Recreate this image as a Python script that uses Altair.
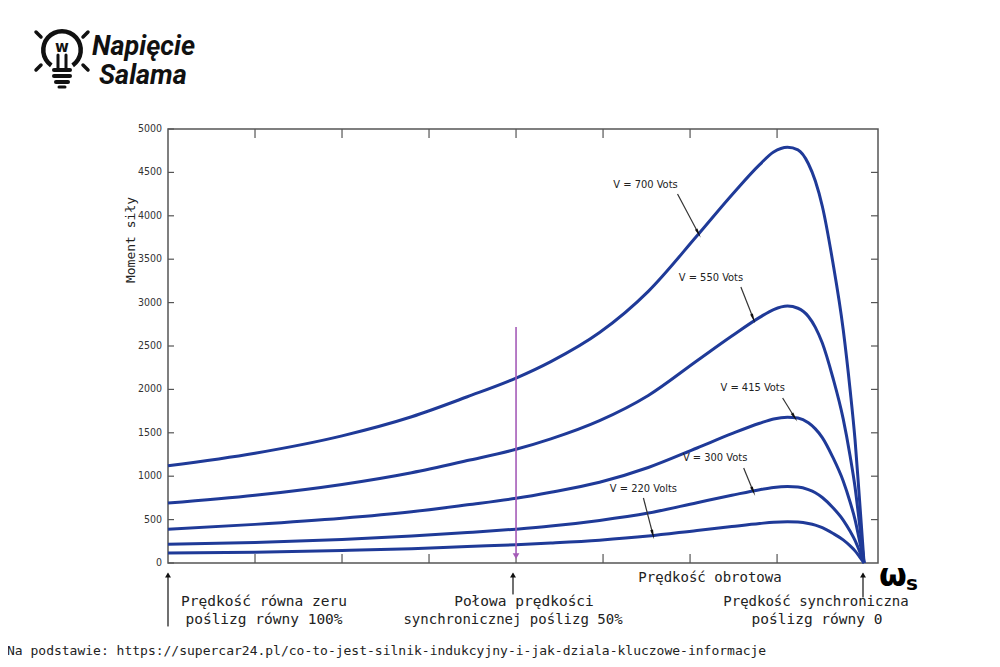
import math
import altair as alt
import pandas as pd

# ---------------- data ----------------
speed = [0, 0.125, 0.25, 0.35, 0.43, 0.5, 0.55, 0.62, 0.69, 0.76, 0.81, 0.85,
         0.87, 0.89, 0.905, 0.92, 0.93, 0.94, 0.955, 0.97, 0.98, 0.987, 0.993, 1.0]
t700 = [1120, 1265, 1465, 1685, 1915, 2130, 2320, 2655, 3130, 3770, 4240, 4590,
        4735, 4790, 4760, 4600, 4400, 4110, 3470, 2690, 1990, 1420, 780, 0]
t550 = [690, 780, 905, 1040, 1180, 1310, 1430, 1640, 1930, 2330, 2615, 2830,
        2920, 2960, 2935, 2840, 2715, 2535, 2140, 1660, 1230, 875, 480, 0]
t415 = [390, 445, 515, 590, 670, 745, 815, 930, 1100, 1325, 1490, 1610,
        1660, 1680, 1670, 1615, 1545, 1445, 1220, 945, 700, 500, 275, 0]
t300 = [215, 235, 270, 310, 350, 390, 425, 490, 575, 695, 780, 845,
        870, 880, 875, 845, 810, 755, 640, 495, 365, 260, 145, 0]
t220 = [115, 125, 145, 165, 190, 210, 230, 263, 310, 375, 420, 455,
        470, 475, 471, 455, 436, 407, 343, 266, 197, 140, 77, 0]
series_names = ["700", "550", "415", "300", "220"]
series_vals = [t700, t550, t415, t300, t220]

label_text = ["V = 700 Vots", "V = 550 Vots", "V = 415 Vots", "V = 300 Vots", "V = 220 Volts"]
label_x = [0.686, 0.780, 0.840, 0.786, 0.683]
label_y = [4355, 3283, 2016, 1210, 853]
arrow_x1 = [0.732, 0.823, 0.883, 0.827, 0.683]
arrow_y1 = [4251, 3180, 1901, 1094, 749]
arrow_x2 = [0.761, 0.840, 0.899, 0.840, 0.696]
arrow_y2 = [3813, 2834, 1694, 841, 346]

y_ticks = list(range(0, 5001, 500))
x_ticks = [0.125, 0.25, 0.375, 0.5, 0.625, 0.75, 0.875]

half_speed = 0.5
purple_top = 2720
purple_bottom = 80

# ---------------- layout constants ----------------
OX, OY = 168, 129          # plot origin on the page
W, H = 710, 434
XMAX, YMAX = 1.02, 5000
PXX, PXY = W / XMAX, H / YMAX

BLUE = "#1f3a98"
PURPLE = "#a55bb8"
NARROW = "Liberation Sans Narrow, Arial Narrow, DejaVu Sans Condensed, Liberation Sans, sans-serif"
MONO = "DejaVu Sans Mono, Liberation Mono, monospace"

xs = alt.Scale(domain=[0, XMAX], nice=False, zero=False)
ys = alt.Scale(domain=[0, YMAX], nice=False, zero=False)

rows = []
for name, vals in zip(series_names, series_vals):
    for s, t in zip(speed, vals):
        rows.append({"speed": s, "torque": t, "series": name})
curves_df = pd.DataFrame(rows)

curves = alt.Chart(curves_df).mark_line(
    color=BLUE, strokeWidth=3, interpolate="monotone"
).encode(
    x=alt.X("speed:Q", scale=xs, axis=None),
    y=alt.Y("torque:Q", scale=ys, axis=None),
    detail="series:N",
)

# y tick labels and inward ticks
ytick_df = pd.DataFrame({"y": y_ticks, "lbl": [str(v) for v in y_ticks]})
ylabels = alt.Chart(ytick_df).mark_text(
    align="right", baseline="middle", dx=-6, font=NARROW, fontSize=10.5, color="#333"
).encode(
    x=alt.X("a:Q", scale=xs, axis=None),
    y=alt.Y("y:Q", scale=ys, axis=None),
    text="lbl:N",
).transform_calculate(a="0")
left_ticks = alt.Chart(ytick_df).mark_rule(color="#555", strokeWidth=1.2).encode(
    x=alt.X("a:Q", scale=xs, axis=None), x2="b:Q",
    y=alt.Y("y:Q", scale=ys, axis=None),
).transform_calculate(a="0", b=str(6 / PXX))
right_ticks = alt.Chart(ytick_df[(ytick_df.y > 0) & (ytick_df.y < 5000)]).mark_rule(color="#555", strokeWidth=1.2).encode(
    x=alt.X("a:Q", scale=xs, axis=None), x2="b:Q",
    y=alt.Y("y:Q", scale=ys, axis=None),
).transform_calculate(a=str(XMAX), b=str(XMAX - 7 / PXX))
xtick_df = pd.DataFrame({"x": x_ticks})
top_ticks = alt.Chart(xtick_df).mark_rule(color="#555", strokeWidth=1.2).encode(
    x=alt.X("x:Q", scale=xs, axis=None),
    y=alt.Y("a:Q", scale=ys, axis=None), y2="b:Q",
).transform_calculate(a=str(YMAX), b=str(YMAX - 9 / PXY))
bottom_ticks = alt.Chart(xtick_df).mark_rule(color="#555", strokeWidth=1.2).encode(
    x=alt.X("x:Q", scale=xs, axis=None),
    y=alt.Y("a:Q", scale=ys, axis=None), y2="b:Q",
).transform_calculate(a="0", b=str(9 / PXY))

# purple half-speed arrow
purple_df = pd.DataFrame({"x": [half_speed], "top": [purple_top], "bot": [purple_bottom]})
purple_line = alt.Chart(purple_df).mark_rule(color=PURPLE, strokeWidth=1.6).encode(
    x=alt.X("x:Q", scale=xs, axis=None),
    y=alt.Y("top:Q", scale=ys, axis=None), y2="bot:Q",
)
purple_head = alt.Chart(purple_df).mark_point(
    shape="triangle-down", filled=True, color=PURPLE, size=45, opacity=1
).encode(
    x=alt.X("x:Q", scale=xs, axis=None),
    y=alt.Y("bot:Q", scale=ys, axis=None),
)

# voltage labels and arrows
ang = [math.degrees(math.atan2((x2 - x1) * PXX, (y2 - y1) * PXY)) % 360
       for x1, y1, x2, y2 in zip(arrow_x1, arrow_y1, arrow_x2, arrow_y2)]
ann_df = pd.DataFrame({
    "label": label_text, "lx": label_x, "ly": label_y,
    "x1": arrow_x1, "y1": arrow_y1, "x2": arrow_x2, "y2": arrow_y2, "ang": ang,
})
ann_text = alt.Chart(ann_df).mark_text(
    font=NARROW, fontSize=11, color="#222", align="center", baseline="middle"
).encode(
    x=alt.X("lx:Q", scale=xs, axis=None),
    y=alt.Y("ly:Q", scale=ys, axis=None),
    text="label:N",
)
ann_line = alt.Chart(ann_df).mark_rule(color="#333", strokeWidth=1.2).encode(
    x=alt.X("x1:Q", scale=xs, axis=None), x2="x2:Q",
    y=alt.Y("y1:Q", scale=ys, axis=None), y2="y2:Q",
)
ann_head = alt.Chart(ann_df).mark_point(
    shape="wedge", filled=True, color="#111", size=130, opacity=1
).encode(
    x=alt.X("x2:Q", scale=xs, axis=None),
    y=alt.Y("y2:Q", scale=ys, axis=None),
    angle=alt.Angle("ang:Q", scale=None),
)

one = pd.DataFrame({"k": [0]})


def vtext(txt, px, py, size, font, weight="normal", align="center",
          baseline="middle", style="normal", color="#111", angle=0):
    return alt.Chart(one).mark_text(
        text=txt, fontSize=size, font=font, fontWeight=weight, align=align,
        baseline=baseline, fontStyle=style, color=color, angle=angle,
    ).encode(x=alt.value(px - OX), y=alt.value(py - OY))


def vrule(x1, y1, x2, y2, width=1.2, color="#111"):
    return alt.Chart(one).mark_rule(color=color, strokeWidth=width, strokeCap="round").encode(
        x=alt.value(x1 - OX), x2=alt.value(x2 - OX),
        y=alt.value(y1 - OY), y2=alt.value(y2 - OY),
    )


def vhead(px, py, size=35, color="#111"):
    return alt.Chart(one).mark_point(
        shape="triangle-up", filled=True, color=color, size=size, opacity=1
    ).encode(x=alt.value(px - OX), y=alt.value(py - OY))


extras = [
    vtext("Moment siły", 131, 240, 13, MONO, angle=270, color="#222"),
    vtext("Prędkość obrotowa", 710, 578, 14, MONO, color="#222"),
    vtext("ω", 879, 576, 32, "DejaVu Sans", weight="bold", align="left", color="#000"),
    vtext("s", 906, 584, 20, "DejaVu Sans", weight="bold", align="left", color="#000"),
    vtext("Prędkość równa zeru", 264, 602, 14.5, MONO, color="#222"),
    vtext("poślizg równy 100%", 264, 620, 14.5, MONO, color="#222"),
    vtext("Połowa prędkości", 524, 602, 14.5, MONO, color="#222"),
    vtext("synchronicznej poślizg 50%", 513, 620, 14, MONO, color="#222"),
    vtext("Prędkość synchroniczna", 816, 602, 14, MONO, color="#222"),
    vtext("poślizg równy 0", 817, 620, 14.5, MONO, color="#222"),
    vtext("Na podstawie: https://supercar24.pl/co-to-jest-silnik-indukcyjny-i-jak-dziala-kluczowe-informacje",
          7, 651, 13, MONO, align="left", color="#222"),
    vrule(168, 574, 168, 626),
    vrule(513, 574, 513, 594),
    vrule(863, 574, 863, 597),
    vhead(168, 575), vhead(513, 575), vhead(863, 575),
    # logo
    vtext("Napięcie", 92, 47, 27, "Roboto", weight="bold", style="italic", align="left", color="#111"),
    vtext("Salama", 99, 76, 27, "Roboto", weight="bold", style="italic", align="left", color="#111"),
    alt.Chart(one).mark_arc(radius=21, radius2=16.5, theta=3.75, theta2=8.82, color="#111").encode(
        x=alt.value(62 - OX), y=alt.value(50 - OY)),
    vtext("w", 62, 47, 15, "DejaVu Sans", weight="bold", color="#111"),
    vrule(58, 55, 58, 68, 3), vrule(66, 55, 66, 68, 3),
    vrule(54, 70, 70, 70, 4), vrule(54, 76, 70, 76, 4), vrule(56, 82, 68, 82, 4),
    vrule(59, 87, 65, 87, 3),
    vrule(36, 32, 41, 37, 3.5), vrule(88, 32, 83, 37, 3.5),
    vrule(36, 70, 41, 65, 3.5), vrule(88, 70, 83, 65, 3.5),
]

chart = alt.layer(
    curves, ylabels, left_ticks, right_ticks, top_ticks, bottom_ticks,
    purple_line, purple_head, ann_line, ann_head, ann_text, *extras
).properties(
    width=W, height=H,
    padding={"left": OX - 8, "top": OY - 8, "right": 114, "bottom": 96},
    autosize=alt.AutoSizeParams(type="none"),
    background="white",
).configure_view(stroke="#555", strokeWidth=1.5)

chart.save("out.html", embed_options={"renderer": "svg", "actions": False})
